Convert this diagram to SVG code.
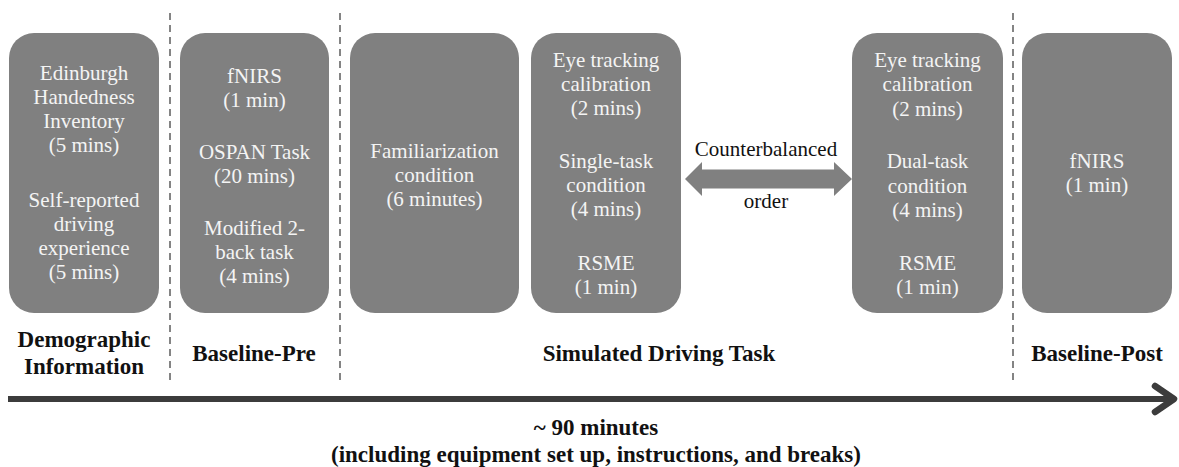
<svg xmlns="http://www.w3.org/2000/svg" width="1179" height="467" viewBox="0 0 1179 467">
  <rect width="1179" height="467" fill="#ffffff"/>

  <!-- phase separators -->
  <g id="separators" stroke="#666666" stroke-width="1.6" stroke-dasharray="7 5" fill="none">
    <line x1="170" y1="13" x2="170" y2="382"/>
    <line x1="340" y1="13" x2="340" y2="382"/>
    <line x1="1013" y1="13" x2="1013" y2="382"/>
  </g>

  <!-- activity boxes: grey rounded cards with white serif text -->
  <g id="boxes" font-size="21" text-anchor="middle">
    <g id="demographic">
      <rect x="9" y="33" width="150" height="280" rx="25" fill="#808080"/>
      <g fill="#f4f4f4">
        <text font-family="Liberation Serif" x="84" y="80">Edinburgh</text>
        <text font-family="Liberation Serif" x="84" y="104">Handedness</text>
        <text font-family="Liberation Serif" x="84" y="128">Inventory</text>
        <text font-family="Liberation Serif" x="84" y="152">(5 mins)</text>
        <text font-family="Liberation Serif" x="84" y="207">Self-reported</text>
        <text font-family="Liberation Serif" x="84" y="231">driving</text>
        <text font-family="Liberation Serif" x="84" y="255">experience</text>
        <text font-family="Liberation Serif" x="84" y="279">(5 mins)</text>
      </g>
    </g>

    <g id="baseline-pre">
      <rect x="180" y="33" width="149" height="280" rx="25" fill="#808080"/>
      <g fill="#f4f4f4">
        <text font-family="Liberation Serif" x="254.5" y="83">fNIRS</text>
        <text font-family="Liberation Serif" x="254.5" y="107">(1 min)</text>
        <text font-family="Liberation Serif" x="254.5" y="159">OSPAN Task</text>
        <text font-family="Liberation Serif" x="254.5" y="183">(20 mins)</text>
        <text font-family="Liberation Serif" x="254.5" y="235">Modified 2-</text>
        <text font-family="Liberation Serif" x="254.5" y="259">back task</text>
        <text font-family="Liberation Serif" x="254.5" y="283">(4 mins)</text>
      </g>
    </g>

    <g id="familiarization">
      <rect x="350" y="33" width="169" height="280" rx="25" fill="#808080"/>
      <g fill="#f4f4f4">
        <text font-family="Liberation Serif" x="434.5" y="158">Familiarization</text>
        <text font-family="Liberation Serif" x="434.5" y="182">condition</text>
        <text font-family="Liberation Serif" x="434.5" y="206">(6 minutes)</text>
      </g>
    </g>

    <g id="single-task">
      <rect x="531" y="33" width="150" height="280" rx="25" fill="#808080"/>
      <g fill="#f4f4f4">
        <text font-family="Liberation Serif" x="606" y="67">Eye tracking</text>
        <text font-family="Liberation Serif" x="606" y="91">calibration</text>
        <text font-family="Liberation Serif" x="606" y="115">(2 mins)</text>
        <text font-family="Liberation Serif" x="606" y="168">Single-task</text>
        <text font-family="Liberation Serif" x="606" y="192">condition</text>
        <text font-family="Liberation Serif" x="606" y="216">(4 mins)</text>
        <text font-family="Liberation Serif" x="606" y="270">RSME</text>
        <text font-family="Liberation Serif" x="606" y="294">(1 min)</text>
      </g>
    </g>

    <g id="dual-task">
      <rect x="852" y="33" width="151" height="280" rx="25" fill="#808080"/>
      <g fill="#f4f4f4">
        <text font-family="Liberation Serif" x="927.5" y="67">Eye tracking</text>
        <text font-family="Liberation Serif" x="927.5" y="91">calibration</text>
        <text font-family="Liberation Serif" x="927.5" y="116">(2 mins)</text>
        <text font-family="Liberation Serif" x="927.5" y="168">Dual-task</text>
        <text font-family="Liberation Serif" x="927.5" y="193">condition</text>
        <text font-family="Liberation Serif" x="927.5" y="217">(4 mins)</text>
        <text font-family="Liberation Serif" x="927.5" y="270">RSME</text>
        <text font-family="Liberation Serif" x="927.5" y="294">(1 min)</text>
      </g>
    </g>

    <g id="baseline-post">
      <rect x="1022" y="33" width="150" height="280" rx="25" fill="#808080"/>
      <g fill="#f4f4f4">
        <text font-family="Liberation Serif" x="1097" y="168">fNIRS</text>
        <text font-family="Liberation Serif" x="1097" y="192">(1 min)</text>
      </g>
    </g>
  </g>

  <g id="connectors">
    <!-- counterbalanced double arrow -->
    <polygon fill="#808080" points="685,179 702,162 702,169.5 834,169.5 834,162 852,179 834,196 834,188.5 702,188.5 702,196"/>
    <!-- timeline -->
    <line x1="8" y1="399" x2="1172" y2="399" stroke="#3c3c3c" stroke-width="6"/>
    <polyline points="1155,386 1174,399 1155,412" fill="none" stroke="#3c3c3c" stroke-width="6.5" stroke-linecap="round" stroke-linejoin="round"/>
  </g>

  <g id="arrow-labels" font-size="21" text-anchor="middle" fill="#111111">
    <text font-family="Liberation Serif" x="766" y="156">Counterbalanced</text>
    <text font-family="Liberation Serif" x="766" y="208">order</text>
  </g>

  <g id="phase-labels" font-size="23" font-weight="bold" text-anchor="middle" fill="#111111">
    <text font-family="Liberation Serif" x="84" y="347">Demographic</text>
    <text font-family="Liberation Serif" x="84" y="374">Information</text>
    <text font-family="Liberation Serif" x="254" y="361">Baseline-Pre</text>
    <text font-family="Liberation Serif" x="659" y="361">Simulated Driving Task</text>
    <text font-family="Liberation Serif" x="1097" y="361">Baseline-Post</text>
    <text font-family="Liberation Serif" x="596" y="435">~ 90 minutes</text>
    <text font-family="Liberation Serif" x="596" y="462">(including equipment set up, instructions, and breaks)</text>
  </g>
</svg>
